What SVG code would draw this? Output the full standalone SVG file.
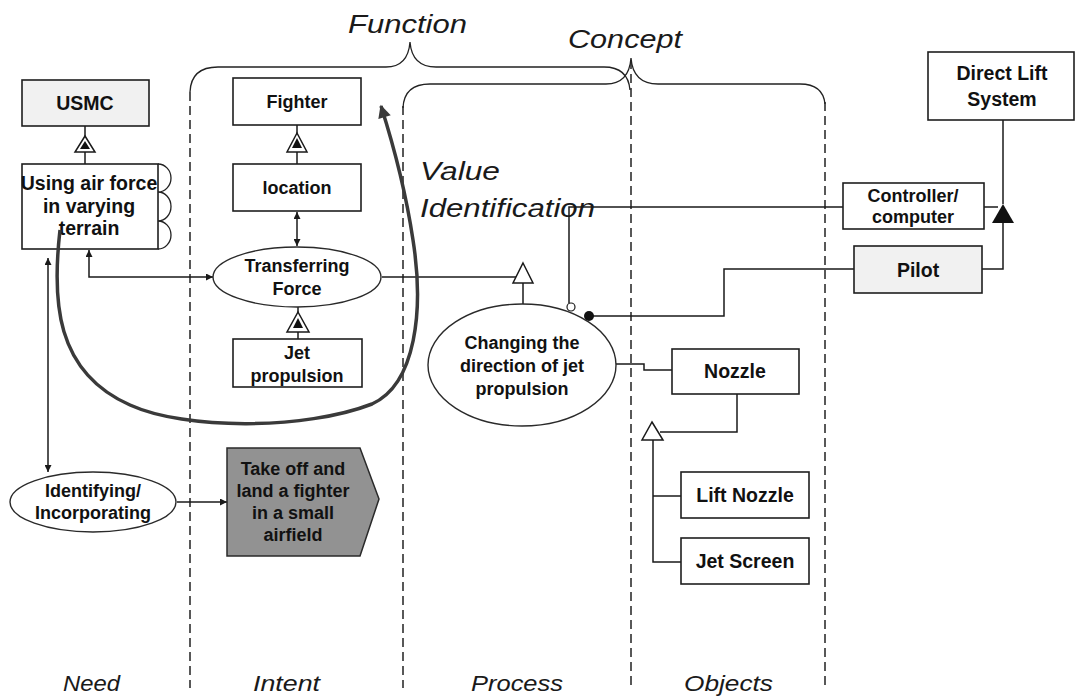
<svg xmlns="http://www.w3.org/2000/svg" width="1076" height="698" viewBox="0 0 1076 698">
  <style>
    .box { fill: #ffffff; stroke: #1e1e1e; stroke-width: 1.6; }
    .shade { fill: #f1f1f1; stroke: #1e1e1e; stroke-width: 1.6; }
    .ell { fill: #ffffff; stroke: #2a2a2a; stroke-width: 1.4; }
    .lbl { font-family: "Liberation Sans", Arial, sans-serif; font-weight: bold; font-size: 18px; fill: #111; text-anchor: middle; }
    .big { font-size: 19.5px; }
    .ital { font-family: "Liberation Sans", Arial, sans-serif; font-style: italic; font-size: 26px; fill: #1a1a1a; }
    .lane { font-family: "Liberation Sans", Arial, sans-serif; font-style: italic; font-size: 22px; fill: #1a1a1a; }
    .dash { stroke: #222; stroke-width: 1.5; stroke-dasharray: 9 5; fill: none; }
    .brace { stroke: #222; stroke-width: 1.3; fill: none; }
    .wire { stroke: #1a1a1a; stroke-width: 1.5; fill: none; }
    .gen { fill: #ffffff; stroke: #1a1a1a; stroke-width: 1.5; }
  </style>
  <defs>
    <marker id="head" viewBox="0 0 10 10" refX="10" refY="5" markerWidth="8" markerHeight="7" markerUnits="userSpaceOnUse" orient="auto-start-reverse">
      <path d="M0,0 L10,5 L0,10 Z" fill="#1a1a1a"/>
    </marker>
    <marker id="valueHead" viewBox="0 0 10 10" refX="9" refY="5" markerWidth="16" markerHeight="13" markerUnits="userSpaceOnUse" orient="auto">
      <path d="M0,0 L10,5 L0,10 Z" fill="#3a3a3a"/>
    </marker>
  </defs>

  <!-- lane separators -->
  <g id="lanes">
    <line class="dash" x1="190" y1="92" x2="190" y2="688"/>
    <line class="dash" x1="403" y1="106" x2="403" y2="688"/>
    <line class="dash" x1="631" y1="60" x2="631" y2="688"/>
    <line class="dash" x1="825" y1="102" x2="825" y2="688"/>
  </g>

  <!-- braces and headings -->
  <g id="braces">
    <path class="brace" d="M190 92 Q191 67 218 67 L386 67 Q408 67 410 42 Q412 67 436 67 L604 67 Q628 67 630 90"/>
    <path class="brace" d="M403 108 Q404 84 430 84 L606 84 Q629 84 631 58 Q633 84 658 84 L800 84 Q823 84 825 104"/>
    <text class="ital" x="348" y="33" textLength="119" lengthAdjust="spacingAndGlyphs">Function</text>
    <text class="ital" x="568" y="48" textLength="114" lengthAdjust="spacingAndGlyphs">Concept</text>
  </g>

  <g id="lane-labels">
    <text class="lane" x="63" y="691" textLength="57" lengthAdjust="spacingAndGlyphs">Need</text>
    <text class="lane" x="253" y="691" textLength="67" lengthAdjust="spacingAndGlyphs">Intent</text>
    <text class="lane" x="471" y="691" textLength="92" lengthAdjust="spacingAndGlyphs">Process</text>
    <text class="lane" x="684" y="691" textLength="89" lengthAdjust="spacingAndGlyphs">Objects</text>
  </g>

  <!-- connectors -->
  <g id="connectors">
    <!-- USMC / Using air force -->
    <line class="wire" x1="85" y1="126" x2="85" y2="164"/>
    <!-- Fighter / location -->
    <line class="wire" x1="297" y1="125" x2="297" y2="164"/>
    <!-- location <-> Transferring Force -->
    <line class="wire" x1="297" y1="212" x2="297" y2="246" marker-start="url(#head)" marker-end="url(#head)"/>
    <!-- Jet propulsion / Transferring Force -->
    <line class="wire" x1="298" y1="307" x2="298" y2="339"/>
    <!-- Using air force <-> Transferring Force -->
    <path class="wire" d="M89 250 L89 277 L213 277" marker-start="url(#head)" marker-end="url(#head)"/>
    <!-- Transferring Force to generalisation of Changing the direction -->
    <path class="wire" d="M382 277 L516 277"/>
    <line class="wire" x1="523" y1="283" x2="523" y2="304"/>
    <!-- Using air force <-> Identifying -->
    <line class="wire" x1="48" y1="258" x2="48" y2="472" marker-start="url(#head)" marker-end="url(#head)"/>
    <!-- Identifying -> Take off -->
    <line class="wire" x1="177" y1="502" x2="227" y2="502" marker-end="url(#head)"/>
    <!-- Changing -> Controller -->
    <path class="wire" d="M569 303 L569 207 L843 207"/>
    <!-- Changing -> Pilot -->
    <path class="wire" d="M589 316 L724 316 L724 269 L854 269"/>
    <!-- Controller / Pilot -> Direct Lift System -->
    <path class="wire" d="M984 207 L998 207"/>
    <path class="wire" d="M982 269 L1003 269 L1003 223"/>
    <line class="wire" x1="1003" y1="204" x2="1003" y2="120"/>
    <!-- Changing -> Nozzle -->
    <path class="wire" d="M616 364 L644 364 L644 370 L672 370"/>
    <!-- Nozzle specialisations -->
    <path class="wire" d="M737 394 L737 432 L660 432"/>
    <path class="wire" d="M653 440 L653 562 L681 562"/>
    <line class="wire" x1="653" y1="496" x2="681" y2="496"/>

    <!-- generalisation markers -->
    <path class="gen" d="M85 136 L95 152 L75 152 Z"/>
    <path d="M85 141 L90 149 L80 149 Z" fill="#111"/>
    <path class="gen" d="M297 133 L307 152 L287 152 Z"/>
    <path d="M297 138 L302 148 L292 148 Z" fill="#111"/>
    <path class="gen" d="M298 312 L309 332 L287 332 Z"/>
    <path d="M298 318 L303 328 L293 328 Z" fill="#111"/>
    <path class="gen" d="M523 263 L533 283 L513 283 Z"/>
    <path class="gen" d="M652 422 L663 440 L642 440 Z"/>
    <path d="M1003 204 L1014 223 L992 223 Z" fill="#111"/>
    <!-- port circles on Changing the direction -->
    <circle cx="571" cy="307" r="4" fill="#fff" stroke="#1a1a1a" stroke-width="1.2"/>
    <circle cx="589" cy="316" r="5" fill="#111"/>
    <circle cx="599" cy="337" r="4" fill="#fff" stroke="#1a1a1a" stroke-width="1.2"/>
  </g>

  <!-- nodes -->
  <g id="usmc">
    <rect class="shade" x="22" y="80" width="127" height="46"/>
    <text class="lbl big" x="85" y="110">USMC</text>
  </g>
  <g id="using-air-force">
    <rect class="box" x="22" y="164" width="136" height="85"/>
    <path class="brace" d="M158 164 A13 14 0 0 1 158 192 A13 14.5 0 0 1 158 221 A13 14 0 0 1 158 249"/>
    <text class="lbl big" x="89" y="190">Using air force</text>
    <text class="lbl big" x="89" y="213">in varying</text>
    <text class="lbl big" x="89" y="235">terrain</text>
  </g>
  <g id="fighter">
    <rect class="box" x="233" y="78" width="128" height="47"/>
    <text class="lbl" x="297" y="108">Fighter</text>
  </g>
  <g id="location">
    <rect class="box" x="233" y="164" width="128" height="47"/>
    <text class="lbl" x="297" y="194">location</text>
  </g>
  <g id="transferring-force">
    <ellipse class="ell" cx="297" cy="277" rx="84" ry="30"/>
    <text class="lbl" x="297" y="272">Transferring</text>
    <text class="lbl" x="297" y="295">Force</text>
  </g>
  <g id="jet-propulsion">
    <rect class="box" x="233" y="339" width="129" height="48"/>
    <text class="lbl" x="297" y="359">Jet</text>
    <text class="lbl" x="297" y="382">propulsion</text>
  </g>
  <g id="identifying">
    <ellipse class="ell" cx="93" cy="502" rx="83" ry="30"/>
    <text class="lbl" x="93" y="497">Identifying/</text>
    <text class="lbl" x="93" y="519">Incorporating</text>
  </g>
  <g id="take-off">
    <path d="M227 448 L360 448 L379 499 L360 556 L227 556 Z" fill="#929292" stroke="#2a2a2a" stroke-width="1.5"/>
    <text class="lbl" x="293" y="475" font-size="18.5" fill="#1c1c1c">Take off and</text>
    <text class="lbl" x="293" y="497" font-size="18.5">land a fighter</text>
    <text class="lbl" x="293" y="519" font-size="18.5">in a small</text>
    <text class="lbl" x="293" y="541" font-size="18.5">airfield</text>
  </g>
  <g id="changing-direction">
    <ellipse class="ell" cx="522" cy="365" rx="94" ry="61"/>
    <text class="lbl" x="522" y="349">Changing the</text>
    <text class="lbl" x="522" y="372">direction of jet</text>
    <text class="lbl" x="522" y="395">propulsion</text>
  </g>
  <g id="nozzle">
    <rect class="box" x="672" y="349" width="127" height="45"/>
    <text class="lbl big" x="735" y="378">Nozzle</text>
  </g>
  <g id="lift-nozzle">
    <rect class="box" x="681" y="472" width="128" height="46"/>
    <text class="lbl big" x="745" y="502">Lift Nozzle</text>
  </g>
  <g id="jet-screen">
    <rect class="box" x="681" y="538" width="128" height="46"/>
    <text class="lbl big" x="745" y="568">Jet Screen</text>
  </g>
  <g id="controller">
    <rect class="box" x="843" y="183" width="141" height="46"/>
    <text class="lbl" x="913" y="202" font-size="17">Controller/</text>
    <text class="lbl" x="913" y="223" font-size="17">computer</text>
  </g>
  <g id="pilot">
    <rect class="shade" x="854" y="246" width="128" height="47"/>
    <text class="lbl big" x="918" y="277">Pilot</text>
  </g>
  <g id="direct-lift">
    <rect class="box" x="928" y="52" width="146" height="68"/>
    <text class="lbl big" x="1002" y="80">Direct Lift</text>
    <text class="lbl big" x="1002" y="106">System</text>
  </g>

  <!-- value identification loop -->
  <g id="value-identification">
    <path d="M60 230 C52 300 55 372 130 405 C185 430 305 430 372 404 C416 384 424 310 413 240 C407 200 395 150 381 106" fill="none" stroke="#3a3a3a" stroke-width="3.5" marker-end="url(#valueHead)"/>
    <text class="ital" x="420" y="180" fill="#333" textLength="80" lengthAdjust="spacingAndGlyphs">Value</text>
    <text class="ital" x="420" y="217" fill="#333" textLength="175" lengthAdjust="spacingAndGlyphs">Identification</text>
  </g>
</svg>
